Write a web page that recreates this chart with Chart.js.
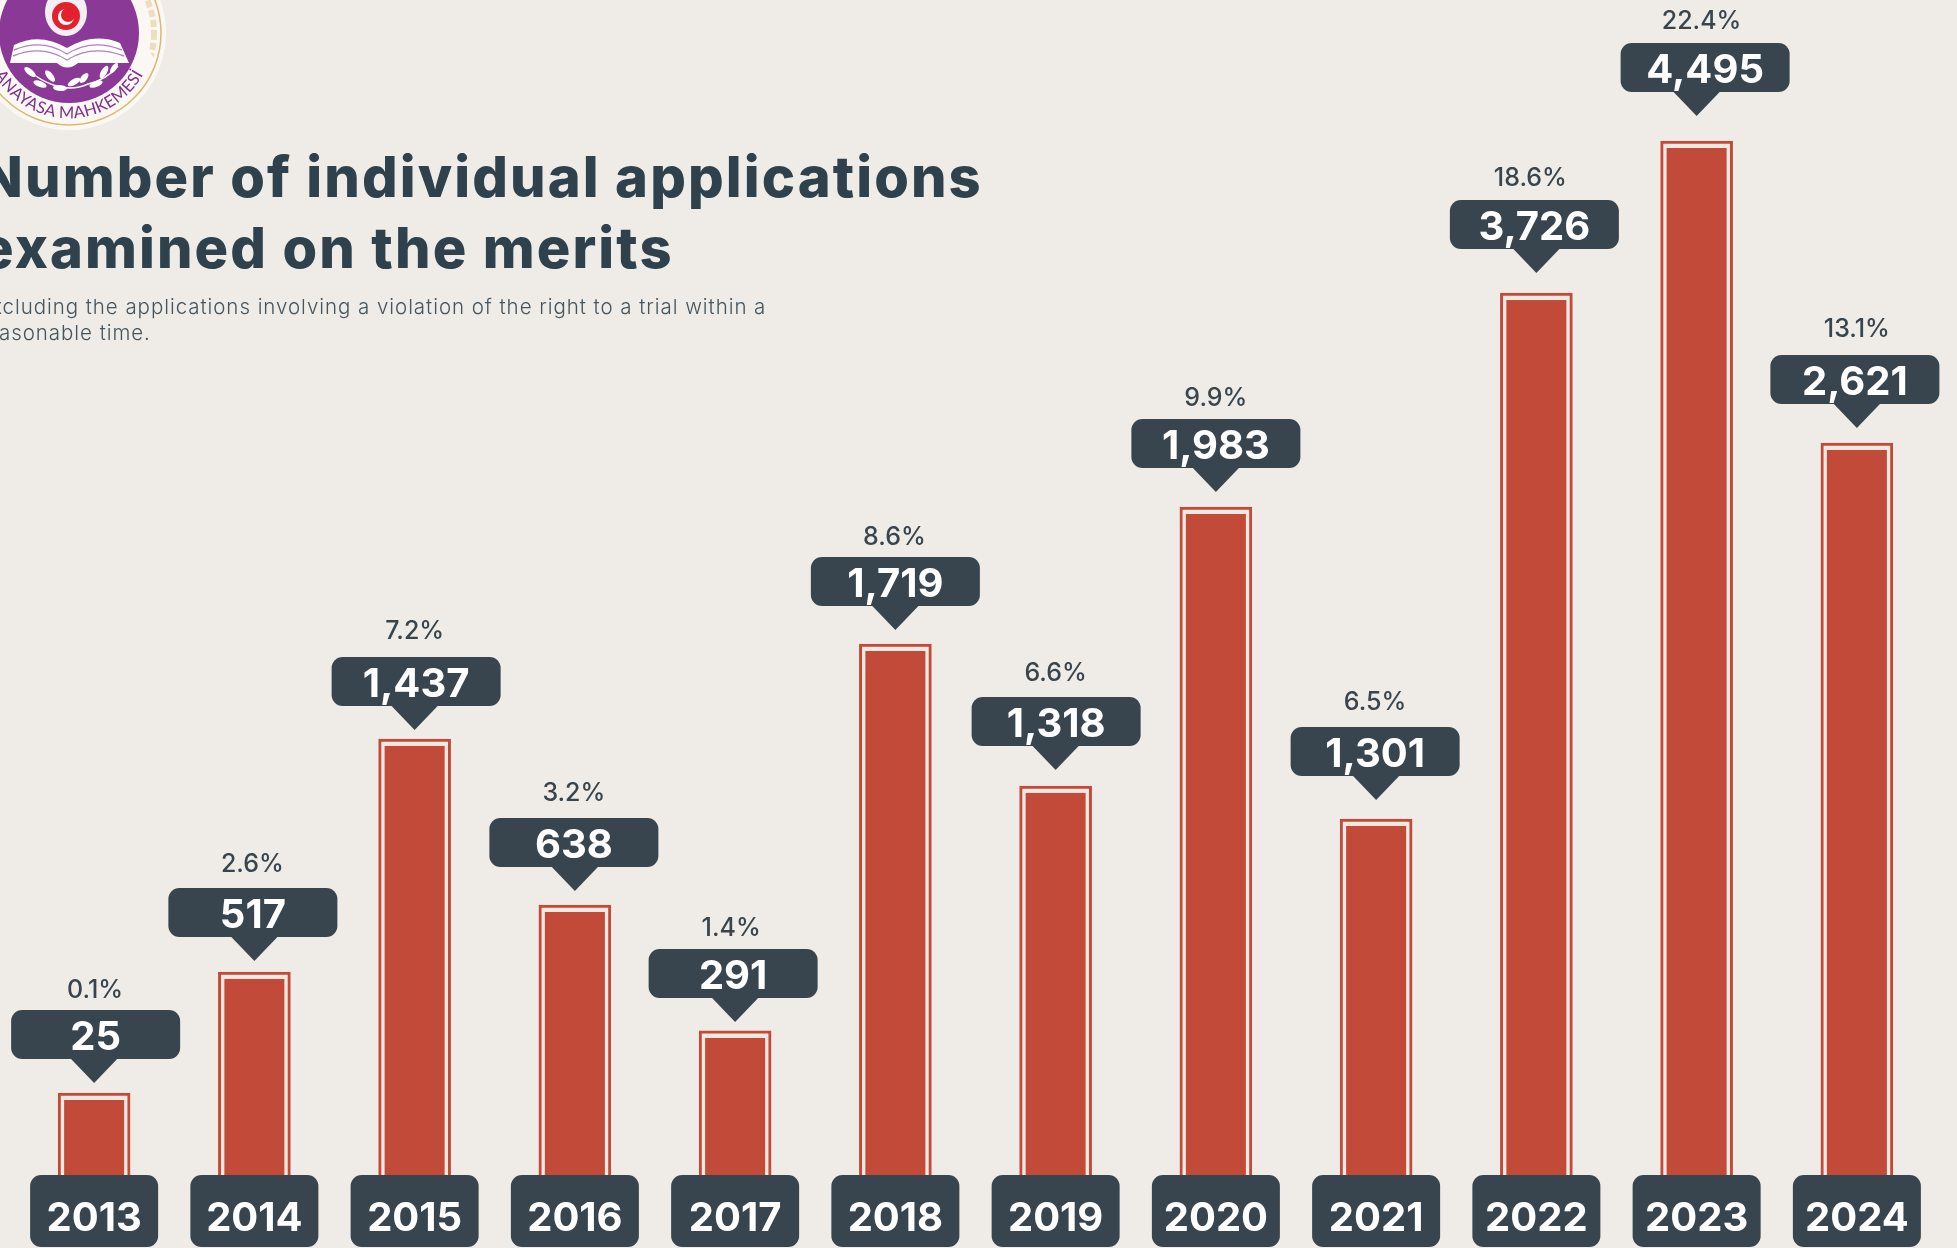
<!DOCTYPE html>
<html>
<head>
<meta charset="utf-8">
<title>Number of individual applications examined on the merits</title>
<script src="https://cdn.jsdelivr.net/npm/chart.js@4/dist/chart.umd.min.js"></script>
<style>
html,body{margin:0;padding:0;background:#efece7;overflow:hidden;width:1957px;height:1248px}
#wrap{position:relative;width:1957px;height:1248px;overflow:hidden}
canvas{position:absolute;left:0;top:0}
h1{position:absolute;left:-20px;top:142px;margin:0;font:800 56px/71px Inter,sans-serif;color:#2e414c;letter-spacing:2.1px;white-space:nowrap;z-index:2}
p{position:absolute;left:-22px;top:294px;margin:0;font:300 20.5px/26px Inter,sans-serif;color:#44555f;letter-spacing:.95px;white-space:nowrap;z-index:2}
svg{position:absolute;left:0;top:0;z-index:2}
</style>
</head>
<body>
<div id="wrap">
<svg width="180" height="140" viewBox="0 0 180 140" aria-label="Anayasa Mahkemesi seal">
  <circle cx="69" cy="33" r="97" fill="#fbf8f3"/>
  <circle cx="69" cy="33" r="92" fill="none" stroke="#d9b877" stroke-width="1.5"/>
  <circle cx="69" cy="33" r="85" fill="none" stroke="#e6d3a8" stroke-width="6" stroke-dasharray="7 3" opacity=".7"/>
  <path d="M-16 59 A89 89 0 0 0 154 59 L139 33 A70 70 0 1 1 -1 33 Z" fill="#fbf8f3"/>
  <circle cx="69" cy="33" r="70" fill="#8a3a96"/>
  <ellipse cx="66" cy="12" rx="21" ry="24" fill="#f6eef6"/>
  <circle cx="66" cy="16" r="14" fill="#e3202c"/>
  <circle cx="66" cy="17" r="8" fill="#fff"/>
  <circle cx="68" cy="15" r="7" fill="#e3202c"/>
  <path d="M10 63 L14 45 Q40 32 67 48 Q94 32 120 43 L129 63 L78 63 Q67 72 57 63 Z" fill="#fff"/>
  <path d="M14 50 Q42 38 67 54 Q92 38 122 50 M13 56 Q42 44 67 60 Q92 44 124 56" fill="none" stroke="#b67fbf" stroke-width="1.4"/>
  <path d="M30 72 Q62 96 88 84 Q106 80 118 66" fill="none" stroke="#fff" stroke-width="1.5"/>
  <g fill="#fff">
    <ellipse cx="30" cy="72" rx="7" ry="3" transform="rotate(40 30 72)"/>
    <ellipse cx="40" cy="84" rx="7" ry="3" transform="rotate(20 40 84)"/>
    <ellipse cx="50" cy="76" rx="7" ry="3" transform="rotate(50 50 76)"/>
    <ellipse cx="60" cy="88" rx="7" ry="3" transform="rotate(5 60 88)"/>
    <ellipse cx="74" cy="82" rx="7" ry="3" transform="rotate(-30 74 82)"/>
    <ellipse cx="84" cy="78" rx="6" ry="3" transform="rotate(-50 84 78)"/>
    <ellipse cx="96" cy="84" rx="7" ry="3" transform="rotate(-20 96 84)"/>
    <ellipse cx="104" cy="72" rx="7" ry="3" transform="rotate(-60 104 72)"/>
    <ellipse cx="114" cy="68" rx="6" ry="2.5" transform="rotate(-55 114 68)"/>
  </g>
  <defs><path id="sealArc" d="M-12 59 A85 85 0 0 0 150 59"/></defs>
  <text font-family="Lato, sans-serif" font-size="16.5" fill="#7f2f8c"><textPath href="#sealArc" startOffset="50%" text-anchor="middle" letter-spacing=".3">ANAYASA MAHKEMESİ</textPath></text>
</svg>
<h1>Number of individual applications<br>examined on the merits</h1>
<p>Excluding the applications involving a violation of the right to a trial within a<br>reasonable time.</p>
<canvas id="chart" width="1957" height="1248"></canvas>
</div>
<script>
// ---- data ----
const years = ['2013','2014','2015','2016','2017','2018','2019','2020','2021','2022','2023','2024'];
const applications = [25,517,1437,638,291,1719,1318,1983,1301,3726,4495,2621];
const shares = ['0.1%','2.6%','7.2%','3.2%','1.4%','8.6%','6.6%','9.9%','6.5%','18.6%','22.4%','13.1%'];

// The reference infographic does not draw its bars to a linear scale, so the y axis
// is a piecewise scale: each known value maps to the share of plot height it has there.
const axisValues = [0,25,291,517,638,1301,1318,1437,1719,1983,2621,3726,4495,5000];
const axisShares = [0,6.98,12.26,17.28,22.98,30.30,33.11,37.11,45.19,56.85,62.30,75.06,88.00,100];

// Hand-placed annotation layout per year, as in the reference (not data).
const calloutGaps  = [10,11,9,14,9,14,16,15,19,20,25,15];      // callout tip to bar top
const calloutNudge = [1.5,-1.5,1.5,-1,-2,0,0.5,0,-1,-2,8.5,-2]; // callout box from bar centre
const shareGaps    = [19.4,23.2,25.7,24.4,20.7,19.4,23.2,20.7,24.4,21.9,21.9,25.7]; // share text above box
const shareNudge   = [1,-2,0,-1,-4,-1,0,0,-1,-6,5,0];           // share text from bar centre

const RED = '#c24a38', DARK = '#38454e', FONT = 'Inter, sans-serif';

class PictureScale extends Chart.LinearScale {
  getPixelForValue(v) {
    let i = 1;
    while (i < axisValues.length - 1 && v > axisValues[i]) i++;
    const t = (v - axisValues[i-1]) / (axisValues[i] - axisValues[i-1]);
    const share = axisShares[i-1] + t * (axisShares[i] - axisShares[i-1]);
    return this.bottom - share / 100 * this.height;
  }
}
PictureScale.id = 'picture';
PictureScale.defaults = Chart.LinearScale.defaults;
Chart.register(PictureScale);

function rounded(ctx, x, y, w, h, r) {
  ctx.beginPath();
  ctx.roundRect(x, y, w, h, r);
}

const markup = {
  id: 'markup',
  afterDatasetsDraw(chart) {
    const ctx = chart.ctx, meta = chart.getDatasetMeta(0), xs = chart.scales.x;
    ctx.save();
    meta.data.forEach((bar, i) => {
      // solid core of the bar inside its outline
      ctx.fillStyle = RED;
      ctx.fillRect(bar.x - 30, bar.y + 7, 60, bar.base - bar.y - 7);

      // year plate under the bar
      const cx = xs.getPixelForTick(i);
      ctx.fillStyle = DARK;
      rounded(ctx, cx - 64, chart.chartArea.bottom, 128, 72, 11);
      ctx.fill();

      // value callout
      const tip = bar.y - calloutGaps[i], boxBottom = tip - 24, boxTop = boxBottom - 49;
      const boxX = bar.x + calloutNudge[i];
      ctx.fillStyle = DARK;
      rounded(ctx, boxX - 84.5, boxTop, 169, 49, 11);
      ctx.fill();
      ctx.beginPath();
      ctx.moveTo(bar.x - 24, boxBottom - 1);
      ctx.lineTo(bar.x + 24, boxBottom - 1);
      ctx.lineTo(bar.x, tip);
      ctx.closePath();
      ctx.fill();
      ctx.textAlign = 'center';
      ctx.textBaseline = 'middle';
      ctx.fillStyle = '#fff';
      ctx.font = '700 40px ' + FONT;
      ctx.fillText(applications[i].toLocaleString('en-US'), boxX, boxTop + 28);

      // share of the total
      ctx.fillStyle = DARK;
      ctx.font = '500 25px ' + FONT;
      ctx.fillText(shares[i], bar.x + shareNudge[i], boxTop - shareGaps[i]);
    });
    ctx.restore();
  }
};

new Chart(document.getElementById('chart'), {
  type: 'bar',
  plugins: [markup],
  data: {
    labels: years,
    datasets: [{
      data: applications,
      barThickness: 72,
      backgroundColor: '#efe9e4',
      borderColor: RED,
      borderWidth: 3
    }]
  },
  options: {
    responsive: false,
    animation: false,
    layout: { padding: { left: 14, right: 20, top: 0, bottom: 0 } },
    plugins: { legend: { display: false }, title: { display: false }, tooltip: { enabled: false } },
    scales: {
      x: {
        grid: { display: false },
        border: { display: false },
        afterFit(s) { s.height = 73; },
        ticks: { z: 1, color: '#fff', padding: 12, maxRotation: 0, autoSkip: false,
                 font: { family: 'Inter, sans-serif', size: 40, weight: '700' } }
      },
      y: { type: 'picture', display: false, min: 0, max: 5000 }
    }
  }
});
</script>
</body>
</html>
